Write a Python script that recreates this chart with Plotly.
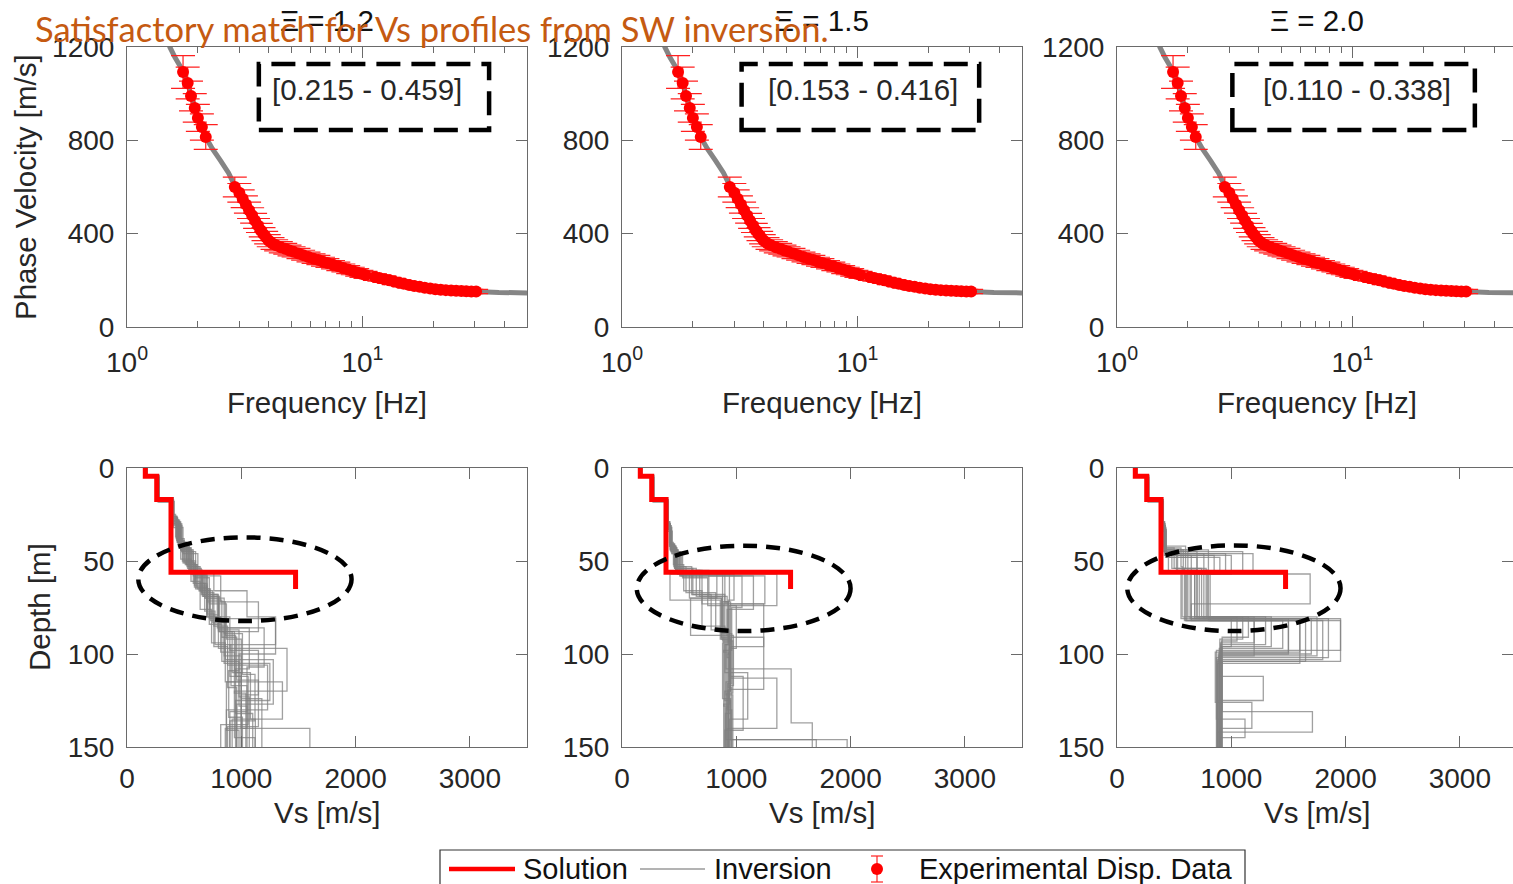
import math
import plotly.graph_objects as go
from plotly.subplots import make_subplots

W, H = 1513, 884

# ---------------- data ----------------
panel_titles = ["Ξ = 1.2", "Ξ = 1.5", "Ξ = 2.0"]
box_labels = ["[0.215 - 0.459]", "[0.153 - 0.416]", "[0.110 - 0.338]"]

# experimental dispersion data (frequency Hz, phase velocity m/s, error m/s)
exp_freq = [1.73, 1.81, 1.87, 1.94, 2.00, 2.08, 2.16,
            2.87, 3.00, 3.10, 3.20, 3.30, 3.40, 3.50, 3.60, 3.70, 3.80, 3.90, 4.00,
            4.15, 4.30, 4.50, 4.70, 4.90, 5.10, 5.35, 5.60, 5.90, 6.20, 6.50, 6.80,
            7.10, 7.50, 7.90, 8.30, 8.70, 9.10, 9.50, 9.90, 10.3,
            11.3, 11.8, 12.4, 13.0, 13.6, 14.3, 15.0, 15.8, 16.6, 17.5, 18.4, 19.4,
            20.4, 21.5, 22.6, 23.8, 25.0, 26.3, 27.6, 29.0, 30.4]
exp_vel = [1093, 1046, 990, 939, 896, 857, 814,
           600, 575, 550, 525, 500, 478, 455, 435, 415, 398, 383, 370,
           358, 350, 342, 335, 328, 322, 315, 308, 300, 293, 287, 280,
           274, 267, 260, 253, 246, 240, 234, 228, 223,
           214, 210, 205, 200, 195, 190, 185, 180, 176, 172, 168, 165,
           162, 160, 158, 156, 155, 154, 153, 152, 152]
exp_err = [70, 68, 64, 61, 58, 56, 53,
           42, 40, 38, 37, 35, 33, 32, 30, 29, 28, 27, 26,
           25, 24, 24, 23, 23, 22, 22, 21, 21, 20, 20, 19,
           19, 18, 18, 17, 17, 16, 16, 15, 15,
           14, 14, 14, 13, 13, 12, 12, 12, 11, 11, 11, 10,
           10, 10, 10, 9, 9, 9, 9, 9, 9]

# inverted (theoretical) dispersion curve
inv_freq = [1.40, 1.52, 1.60, 1.70, 1.80, 1.90, 2.00, 2.15, 2.30, 2.50, 2.70, 2.87,
            3.00, 3.20, 3.40, 3.60, 3.80, 4.00, 4.30, 4.70, 5.10, 5.60, 6.20, 6.80,
            7.50, 8.30, 9.10, 10.3, 11.8, 13.6, 15.8, 18.4, 21.5, 25.0, 30.0, 38.0, 50.0]
inv_vel = [1320, 1200, 1155, 1110, 1050, 965, 900, 818, 765, 712, 660, 605,
           575, 525, 478, 435, 398, 370, 350, 335, 322, 308, 293, 280,
           267, 253, 240, 223, 210, 195, 180, 168, 160, 155, 152, 148, 146]

# solution Vs profile (layer tops [m], Vs [m/s])
sol_vs = [160, 260, 385, 1475, 1475]
sol_depth = [0, 4.5, 17, 56, 65]

# inversion Vs profiles, Xi = 1.2
inv12_tops = [
    [0, 4, 17, 26, 38, 50, 62, 78, 96, 118],
    [0, 5, 16, 28, 41, 53, 66, 84, 104, 128],
    [0, 4, 18, 30, 44, 57, 70, 88, 110, 140],
    [0, 5, 17, 27, 40, 52, 64, 80, 98, 122],
    [0, 4, 16, 25, 37, 49, 61, 76, 94, 115, 135],
    [0, 5, 18, 29, 43, 55, 68, 86, 108, 132],
    [0, 4, 17, 28, 42, 54, 67, 85, 106, 130],
    [0, 5, 16, 26, 39, 51, 63, 79, 97, 120, 145],
    [0, 4, 17, 31, 45, 58, 72, 90, 112, 138],
    [0, 5, 18, 27, 40, 52, 65, 82, 101, 124],
    [0, 4, 16, 29, 42, 55, 69, 87, 109, 134],
    [0, 5, 17, 30, 43, 56, 70, 89, 111, 136],
    [0, 4, 18, 28, 41, 53, 66, 83, 103, 127],
    [0, 5, 17, 26, 38, 50, 62, 77, 95, 117, 140],
    [0, 4, 16, 27, 40, 52, 65, 81, 100, 123],
    [0, 5, 17, 29, 44, 57, 71, 91, 114, 139],
    [0, 4, 18, 30, 45, 59, 73, 92, 115, 141],
    [0, 5, 16, 27, 39, 51, 64, 80, 99, 121],
    [0, 4, 17, 28, 42, 55, 68, 86, 107, 131],
    [0, 5, 17, 29, 43, 56, 69, 88, 110, 135],
    [0, 4, 17, 30, 44, 56, 66, 80, 95, 112],
    [0, 5, 18, 32, 46, 58, 72, 88, 105, 125],
]
inv12_vs = [
    [170, 275, 400, 430, 500, 600, 700, 760, 880, 960],
    [165, 268, 392, 460, 540, 640, 720, 830, 980, 1050],
    [175, 282, 410, 470, 560, 680, 800, 920, 1000, 1600],
    [160, 265, 395, 440, 520, 610, 700, 900, 1150, 1000],
    [172, 278, 405, 425, 470, 560, 640, 740, 860, 1360, 920],
    [168, 272, 398, 465, 560, 660, 800, 1070, 950, 1100],
    [163, 270, 396, 450, 530, 650, 760, 880, 1230, 870],
    [170, 276, 402, 435, 490, 590, 700, 800, 1400, 940, 1120],
    [166, 271, 399, 480, 580, 700, 860, 950, 1060, 820],
    [174, 280, 412, 442, 520, 615, 730, 850, 1000, 1180],
    [161, 266, 390, 455, 545, 660, 800, 980, 890, 1010],
    [169, 274, 401, 462, 560, 690, 850, 1010, 1120, 900],
    [167, 273, 404, 448, 525, 630, 750, 860, 1280, 960],
    [171, 277, 397, 438, 485, 580, 680, 770, 910, 1050, 860],
    [164, 269, 393, 443, 510, 600, 720, 1300, 980, 1070],
    [173, 279, 407, 470, 570, 700, 830, 960, 1150, 880],
    [162, 267, 394, 480, 600, 720, 870, 1000, 870, 980],
    [168, 275, 400, 440, 500, 590, 700, 820, 940, 1040],
    [170, 272, 403, 452, 540, 650, 790, 1200, 1050, 900],
    [165, 270, 398, 457, 550, 670, 810, 940, 1080, 1123],
    [166, 270, 400, 470, 580, 760, 1050, 1300, 900, 1000],
    [171, 276, 405, 490, 620, 820, 1150, 850, 1250, 950],
]

# inversion Vs profiles, Xi = 1.5
inv15_tops = [
    [0, 4, 17, 32, 44, 56, 72, 95, 125],
    [0, 5, 16, 30, 42, 54, 68, 88, 115, 146],
    [0, 4, 18, 33, 45, 57, 74, 100, 130],
    [0, 5, 17, 31, 43, 55, 70, 92, 120],
    [0, 4, 16, 29, 41, 53, 67, 86, 108, 137],
    [0, 5, 18, 34, 46, 58, 75, 98, 128],
    [0, 4, 17, 30, 42, 55, 73, 96, 113, 140],
    [0, 5, 16, 31, 44, 57, 72, 93, 121],
    [0, 4, 17, 32, 43, 56, 70, 90, 118],
    [0, 5, 18, 29, 40, 52, 66, 85, 110, 135],
    [0, 4, 16, 33, 45, 58, 76, 102, 132],
    [0, 5, 17, 30, 41, 54, 69, 89, 116],
    [0, 4, 18, 31, 44, 57, 71, 94, 124, 146],
    [0, 5, 17, 32, 46, 59, 74, 97, 127],
    [0, 4, 16, 30, 42, 55, 70, 91, 119],
    [0, 5, 17, 31, 43, 56, 72, 95, 122],
    [0, 4, 18, 33, 45, 58, 73, 99, 129],
    [0, 5, 16, 29, 41, 53, 68, 87, 112, 141],
    [0, 4, 17, 32, 44, 57, 71, 92, 120],
    [0, 5, 17, 30, 42, 55, 69, 90, 117],
]
inv15_vs = [
    [168, 272, 398, 420, 470, 880, 930, 900, 950],
    [165, 268, 390, 415, 460, 620, 900, 940, 910, 1970],
    [172, 278, 405, 430, 500, 1355, 940, 920, 960],
    [163, 266, 395, 425, 480, 760, 870, 950, 900],
    [170, 275, 400, 418, 455, 560, 820, 910, 1480, 1665],
    [167, 271, 402, 440, 520, 1050, 960, 890, 930],
    [164, 269, 396, 422, 470, 700, 1240, 950, 1355, 920],
    [171, 276, 392, 428, 490, 940, 880, 970, 915],
    [166, 270, 399, 424, 475, 830, 600, 930, 960],
    [169, 274, 404, 416, 450, 540, 700, 900, 1100, 940],
    [162, 267, 391, 432, 510, 1150, 920, 945, 905],
    [173, 279, 401, 420, 462, 650, 880, 960, 925],
    [165, 271, 397, 426, 485, 980, 930, 880, 950, 1700],
    [168, 273, 403, 436, 530, 750, 1000, 940, 890],
    [170, 277, 393, 421, 468, 590, 870, 1240, 930],
    [164, 268, 398, 427, 478, 900, 950, 910, 970],
    [167, 272, 406, 431, 505, 1250, 890, 935, 910],
    [171, 275, 394, 417, 458, 610, 780, 940, 1060, 900],
    [163, 270, 400, 429, 490, 420, 860, 950, 930],
    [169, 274, 397, 422, 472, 680, 920, 975, 940],
]

# inversion Vs profiles, Xi = 2.0
inv20_tops = [
    [0, 4, 17, 30, 45, 55, 81, 100],
    [0, 5, 16, 32, 47, 56, 82, 103],
    [0, 4, 18, 31, 44, 54, 80, 95],
    [0, 5, 17, 33, 48, 57, 81, 98],
    [0, 4, 16, 29, 43, 53, 80, 92],
    [0, 5, 18, 34, 46, 56, 82, 105],
    [0, 4, 17, 30, 45, 57, 73, 82, 101],
    [0, 5, 16, 31, 44, 55, 81, 96],
    [0, 4, 17, 32, 46, 56, 80, 101, 112, 125],
    [0, 5, 18, 29, 42, 54, 82, 99, 126, 140],
    [0, 4, 16, 33, 47, 57, 81, 104, 131, 142],
    [0, 5, 17, 30, 45, 55, 80, 94],
    [0, 4, 18, 31, 46, 56, 81, 102, 135, 145],
    [0, 5, 17, 32, 47, 57, 82, 97],
    [0, 4, 16, 30, 44, 55, 80, 93],
    [0, 5, 17, 31, 45, 56, 81, 100],
    [0, 4, 18, 33, 48, 57, 82, 104],
    [0, 5, 16, 29, 43, 54, 80, 96],
    [0, 4, 17, 32, 46, 56, 81, 99],
    [0, 5, 17, 30, 44, 55, 80, 91],
]
inv20_vs = [
    [168, 272, 398, 410, 520, 700, 1500, 900],
    [165, 268, 390, 415, 650, 600, 1800, 880],
    [172, 278, 405, 420, 480, 780, 1300, 910],
    [163, 266, 395, 425, 900, 640, 1956, 870],
    [170, 275, 400, 418, 560, 570, 1100, 900],
    [167, 271, 402, 430, 1190, 815, 1600, 880],
    [164, 269, 396, 415, 700, 1690, 650, 1200, 890],
    [171, 276, 392, 420, 800, 760, 1000, 920],
    [166, 270, 399, 425, 450, 680, 1750, 900, 1280, 880],
    [169, 274, 404, 412, 600, 590, 1500, 860, 1180, 900],
    [162, 267, 391, 428, 1000, 720, 1650, 920, 1710, 880],
    [173, 279, 401, 418, 530, 620, 1200, 905],
    [165, 271, 397, 422, 760, 650, 1850, 870, 1120, 900],
    [168, 273, 403, 426, 850, 800, 1450, 895],
    [170, 277, 393, 416, 620, 700, 1050, 915],
    [164, 268, 398, 421, 1100, 560, 1700, 885],
    [167, 272, 406, 430, 700, 610, 1956, 875],
    [171, 275, 394, 414, 500, 740, 1350, 910],
    [163, 270, 400, 424, 950, 680, 1600, 895],
    [169, 274, 397, 419, 580, 790, 1150, 920],
]

profile_tops = [inv12_tops, inv15_tops, inv20_tops]
profile_vs = [inv12_vs, inv15_vs, inv20_vs]

# ---------------- layout geometry (px) ----------------
col_left = [127, 622, 1117]
panel_w = 400
top_y = (47, 327)
bot_y = (468, 747)
FREQ_MAX = 50.0
VS_MAX = 3500.0

FONT = "Liberation Sans, Arial, sans-serif"
TXT = "#262626"
AX = "#6a6a6a"
FS = 28
FT = 29.5


def px_x(p):
    return p / W


def px_y(p):
    return 1 - p / H


fig = make_subplots(rows=2, cols=3)

for c in range(3):
    # top: dispersion
    fig.add_trace(go.Scatter(x=inv_freq, y=inv_vel, mode="lines",
                             line=dict(color="#858585", width=5),
                             showlegend=False, hoverinfo="skip"), row=1, col=c + 1)
    fig.add_trace(go.Scatter(x=exp_freq, y=exp_vel, mode="markers",
                             marker=dict(color="#ff0000", size=12, line=dict(width=0)),
                             error_y=dict(type="data", array=exp_err, color="#ff2020",
                                          thickness=1.2, width=12),
                             showlegend=False), row=1, col=c + 1)
    # bottom: Vs profiles
    for tops, vs in zip(profile_tops[c], profile_vs[c]):
        fig.add_trace(go.Scatter(x=vs + [vs[-1]], y=tops + [160], mode="lines",
                                 line=dict(color="rgba(128,128,128,0.75)", width=1.3, shape="vh"),
                                 showlegend=False, hoverinfo="skip"), row=2, col=c + 1)
    fig.add_trace(go.Scatter(x=sol_vs, y=sol_depth, mode="lines",
                             line=dict(color="#ff0000", width=5, shape="vh"),
                             showlegend=False), row=2, col=c + 1)

# axes
for c in range(3):
    x0 = col_left[c]
    x1 = min(x0 + panel_w, W)
    frac = (x1 - x0) / panel_w
    dom = [px_x(x0), px_x(x1)]
    common = dict(showline=True, linecolor=AX, linewidth=1, mirror="ticks",
                  ticks="inside", ticklen=11, tickcolor=AX, tickwidth=1,
                  showgrid=False, zeroline=False, automargin=False,
                  tickfont=dict(family=FONT, size=FS, color=TXT))
    # top x (log)
    fig.update_xaxes(row=1, col=c + 1, domain=dom, type="log",
                     range=[0, math.log10(FREQ_MAX) * frac],
                     tickvals=[1, 10], ticktext=["10<sup>0</sup>", "10<sup>1</sup>"],
                     minor=dict(ticks="inside", ticklen=6, tickcolor=AX, dtick="D1", showgrid=False),
                     ticklabelstandoff=10, **common)
    fig.update_yaxes(row=1, col=c + 1, domain=[px_y(top_y[1]), px_y(top_y[0])],
                     range=[0, 1200], tickvals=[0, 400, 800, 1200],
                     ticklabelstandoff=6, **common)
    fig.update_xaxes(row=2, col=c + 1, domain=dom, range=[0, VS_MAX * frac],
                     tickvals=[0, 1000, 2000, 3000], ticklabelstandoff=6, **common)
    fig.update_yaxes(row=2, col=c + 1, domain=[px_y(bot_y[1]), px_y(bot_y[0])],
                     range=[150, 0], tickvals=[0, 50, 100, 150],
                     ticklabelstandoff=6, **common)

shapes = []
annotations = []

box_logx = [(0.56, 1.538), (0.508, 1.517), (0.49, 1.52)]
text_shift = [-0.03, 0.01, 0.015]
ell = [((99, 1965), (37.3, 82.3)), ((129, 2000), (41.8, 87.7)), ((90, 1956), (41.6, 87.7))]
for c in range(3):
    xt = "x" if c == 0 else f"x{c + 1}"
    yt = "y" if c == 0 else f"y{c + 1}"
    xb = f"x{c + 4}"
    yb = f"y{c + 4}"
    shapes.append(dict(type="rect", xref=xt, yref=yt,
                       x0=10 ** box_logx[c][0], x1=10 ** box_logx[c][1],
                       y0=844, y1=1127, line=dict(color="black", width=4.5, dash="24px,11px")))
    annotations.append(dict(xref=xt, yref=yt,
                            x=(box_logx[c][0] + box_logx[c][1]) / 2 + text_shift[c], y=1016,
                            text=box_labels[c], showarrow=False,
                            font=dict(family=FONT, size=FT, color=TXT)))
    shapes.append(dict(type="circle", xref=xb, yref=yb, x0=ell[c][0][0], x1=ell[c][0][1],
                       y0=ell[c][1][0], y1=ell[c][1][1],
                       line=dict(color="black", width=4.5, dash="14px,9px")))
    cx = col_left[c] + panel_w / 2
    annotations.append(dict(xref="paper", yref="paper", x=px_x(cx), y=px_y(20),
                            text=panel_titles[c], showarrow=False, xanchor="center", yanchor="middle",
                            font=dict(family=FONT, size=FT, color="#111111")))
    annotations.append(dict(xref="paper", yref="paper", x=px_x(cx), y=px_y(403),
                            text="Frequency [Hz]", showarrow=False, xanchor="center", yanchor="middle",
                            font=dict(family=FONT, size=FT, color=TXT)))
    annotations.append(dict(xref="paper", yref="paper", x=px_x(cx), y=px_y(812),
                            text="Vs [m/s]", showarrow=False, xanchor="center", yanchor="middle",
                            font=dict(family=FONT, size=FT, color=TXT)))

annotations.append(dict(xref="paper", yref="paper", x=px_x(25), y=px_y(187),
                        text="Phase Velocity [m/s]", showarrow=False, textangle=-90,
                        xanchor="center", yanchor="middle",
                        font=dict(family=FONT, size=FT, color=TXT)))
annotations.append(dict(xref="paper", yref="paper", x=px_x(39), y=px_y(607),
                        text="Depth [m]", showarrow=False, textangle=-90,
                        xanchor="center", yanchor="middle",
                        font=dict(family=FONT, size=FT, color=TXT)))

# manual legend
ly = 869
shapes.append(dict(type="rect", xref="paper", yref="paper", x0=px_x(440), x1=px_x(1245),
                   y0=px_y(900), y1=px_y(850), line=dict(color="#333333", width=1.2),
                   fillcolor="white", layer="above"))
shapes.append(dict(type="line", xref="paper", yref="paper", x0=px_x(449), x1=px_x(515),
                   y0=px_y(ly), y1=px_y(ly), line=dict(color="#ff0000", width=4.5)))
shapes.append(dict(type="line", xref="paper", yref="paper", x0=px_x(640), x1=px_x(705),
                   y0=px_y(ly), y1=px_y(ly), line=dict(color="#9a9a9a", width=1.3)))
shapes.append(dict(type="line", xref="paper", yref="paper", x0=px_x(877), x1=px_x(877),
                   y0=px_y(882), y1=px_y(856), line=dict(color="#ff2020", width=1.2)))
for yy in (856, 882):
    shapes.append(dict(type="line", xref="paper", yref="paper", x0=px_x(871), x1=px_x(883),
                       y0=px_y(yy), y1=px_y(yy), line=dict(color="#ff2020", width=1.2)))
shapes.append(dict(type="circle", xref="paper", yref="paper", x0=px_x(871), x1=px_x(883),
                   y0=px_y(875), y1=px_y(863), fillcolor="#ff0000", line=dict(width=0)))
for xx, t in ((521, "Solution"), (712, "Inversion"), (917, "Experimental Disp. Data")):
    annotations.append(dict(xref="paper", yref="paper", x=px_x(xx), y=px_y(ly), text=t,
                            showarrow=False, xanchor="left", yanchor="middle",
                            font=dict(family=FONT, size=29, color="#111111")))

# overlay headline
annotations.append(dict(xref="paper", yref="paper", x=px_x(33), y=px_y(28),
                        text="Satisfactory match for Vs profiles from SW inversion.",
                        showarrow=False, xanchor="left", yanchor="middle",
                        font=dict(family="Lato, Carlito, sans-serif", size=34.5, color="#c55a11")))

fig.update_layout(width=W, height=H, margin=dict(l=0, r=0, t=0, b=0),
                  paper_bgcolor="white", plot_bgcolor="white",
                  showlegend=False, shapes=shapes, annotations=annotations)

fig.write_html("out.html")
